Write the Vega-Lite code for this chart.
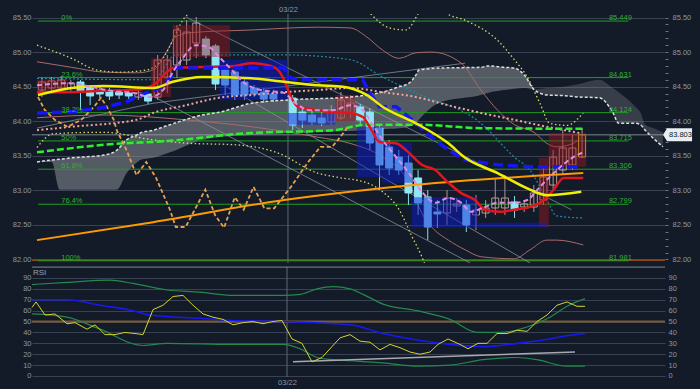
{
"$schema":"https://vega.github.io/schema/vega-lite/v6.json",
"background":"#131b29",
"padding":0,
"spacing":2,
"config":{"view":{"stroke":null},"font":"Liberation Sans","axis":{"labelFont":"Liberation Sans","labelFontSize":7.5,"labelColor":"#8b96a4"}},
"datasets":{
"candles":[
{"i":0,"o":84.451,"h":84.625,"l":84.35,"c":84.567,"t":"up"},
{"i":1,"o":84.48,"h":84.639,"l":84.422,"c":84.582,"t":"up"},
{"i":2,"o":84.48,"h":84.654,"l":84.451,"c":84.596,"t":"up"},
{"i":3,"o":84.48,"h":84.596,"l":84.437,"c":84.553,"t":"up"},
{"i":4,"o":84.567,"h":84.596,"l":84.162,"c":84.422,"t":"down"},
{"i":5,"o":84.48,"h":84.524,"l":84.234,"c":84.365,"t":"down"},
{"i":6,"o":84.451,"h":84.495,"l":84.336,"c":84.394,"t":"down"},
{"i":7,"o":84.422,"h":84.48,"l":84.307,"c":84.365,"t":"down"},
{"i":8,"o":84.422,"h":84.466,"l":84.321,"c":84.379,"t":"down"},
{"i":9,"o":84.408,"h":84.451,"l":84.307,"c":84.365,"t":"down"},
{"i":10,"o":84.35,"h":84.451,"l":84.307,"c":84.408,"t":"up"},
{"i":11,"o":84.394,"h":84.422,"l":84.249,"c":84.292,"t":"down"},
{"i":12,"o":84.35,"h":84.958,"l":84.307,"c":84.885,"t":"up"},
{"i":13,"o":84.639,"h":84.958,"l":84.408,"c":84.885,"t":"up"},
{"i":14,"o":84.813,"h":85.392,"l":84.625,"c":85.319,"t":"up"},
{"i":15,"o":84.885,"h":85.464,"l":84.813,"c":85.29,"t":"up"},
{"i":16,"o":85.131,"h":85.507,"l":84.914,"c":85.42,"t":"up"},
{"i":17,"o":85.189,"h":85.232,"l":84.914,"c":84.958,"t":"down"},
{"i":18,"o":85.088,"h":85.117,"l":84.451,"c":84.538,"t":"down"},
{"i":19,"o":84.741,"h":84.799,"l":84.379,"c":84.524,"t":"down"},
{"i":20,"o":84.712,"h":84.741,"l":84.307,"c":84.379,"t":"down"},
{"i":21,"o":84.567,"h":84.625,"l":84.307,"c":84.379,"t":"down"},
{"i":22,"o":84.48,"h":84.524,"l":84.35,"c":84.394,"t":"down"},
{"i":23,"o":84.422,"h":84.48,"l":84.263,"c":84.321,"t":"down"},
{"i":24,"o":84.394,"h":84.451,"l":84.278,"c":84.321,"t":"down"},
{"i":26,"o":84.336,"h":84.379,"l":83.873,"c":83.945,"t":"down"},
{"i":27,"o":84.133,"h":84.191,"l":83.902,"c":84.017,"t":"down"},
{"i":28,"o":84.09,"h":84.162,"l":83.945,"c":83.989,"t":"down"},
{"i":29,"o":84.046,"h":84.133,"l":83.931,"c":83.974,"t":"down"},
{"i":30,"o":83.989,"h":84.234,"l":83.945,"c":84.162,"t":"up"},
{"i":31,"o":84.046,"h":84.422,"l":84.017,"c":84.307,"t":"up"},
{"i":32,"o":84.119,"h":84.379,"l":84.046,"c":84.263,"t":"up"},
{"i":33,"o":84.206,"h":84.249,"l":83.945,"c":84.017,"t":"down"},
{"i":34,"o":84.133,"h":84.191,"l":83.584,"c":83.685,"t":"down"},
{"i":35,"o":83.902,"h":83.945,"l":83.005,"c":83.367,"t":"down"},
{"i":36,"o":83.627,"h":83.728,"l":83.222,"c":83.323,"t":"down"},
{"i":37,"o":83.482,"h":83.584,"l":83.222,"c":83.294,"t":"down"},
{"i":38,"o":83.396,"h":83.511,"l":82.788,"c":82.962,"t":"down"},
{"i":39,"o":83.179,"h":83.294,"l":82.644,"c":82.817,"t":"down"},
{"i":40,"o":82.904,"h":83.005,"l":82.282,"c":82.47,"t":"down"},
{"i":41,"o":82.687,"h":82.861,"l":82.456,"c":82.658,"t":"down"},
{"i":42,"o":82.672,"h":83.005,"l":82.499,"c":82.889,"t":"up"},
{"i":43,"o":82.774,"h":82.889,"l":82.687,"c":82.803,"t":"up"},
{"i":44,"o":82.788,"h":82.861,"l":82.398,"c":82.499,"t":"down"},
{"i":45,"o":82.644,"h":82.933,"l":82.427,"c":82.716,"t":"up"},
{"i":46,"o":82.672,"h":82.861,"l":82.6,"c":82.745,"t":"up"},
{"i":47,"o":82.745,"h":83.179,"l":82.644,"c":82.889,"t":"up"},
{"i":48,"o":82.745,"h":83.222,"l":82.644,"c":82.889,"t":"up"},
{"i":49,"o":82.832,"h":82.918,"l":82.6,"c":82.716,"t":"down"},
{"i":50,"o":82.759,"h":82.861,"l":82.687,"c":82.803,"t":"up"},
{"i":51,"o":82.759,"h":83.077,"l":82.687,"c":82.962,"t":"up"},
{"i":52,"o":82.861,"h":83.367,"l":82.788,"c":83.193,"t":"up"},
{"i":53,"o":83.077,"h":83.584,"l":83.005,"c":83.482,"t":"up"},
{"i":54,"o":83.294,"h":83.873,"l":83.222,"c":83.613,"t":"up"},
{"i":55,"o":83.367,"h":83.8,"l":83.294,"c":83.613,"t":"up"},
{"i":56,"o":83.482,"h":83.902,"l":83.468,"c":83.803,"t":"last"}
],
"cloud":[
{"seg":"L","i":-0.51,"a":83.41,"b":83.41},
{"seg":"L","i":1.02,"a":83.44,"b":83.41},
{"seg":"L","i":1.84,"a":83.45,"b":83.01},
{"seg":"L","i":3.06,"a":83.47,"b":83.01},
{"seg":"L","i":6.43,"a":83.51,"b":83.01},
{"seg":"L","i":7.76,"a":83.58,"b":83.01},
{"seg":"L","i":8.78,"a":83.73,"b":83.25},
{"seg":"L","i":9.8,"a":83.8,"b":83.4},
{"seg":"L","i":10.2,"a":83.83,"b":83.44},
{"seg":"L","i":11.53,"a":83.87,"b":83.47},
{"seg":"L","i":13.27,"a":83.95,"b":83.55},
{"seg":"L","i":16.63,"a":84.09,"b":83.73},
{"seg":"L","i":18.37,"a":84.13,"b":83.77},
{"seg":"L","i":21.73,"a":84.26,"b":83.8},
{"seg":"L","i":25.82,"a":84.31,"b":83.83},
{"seg":"L","i":31.94,"a":84.35,"b":83.86},
{"seg":"L","i":36.02,"a":84.45,"b":83.89},
{"seg":"L","i":37.04,"a":84.5,"b":83.9},
{"seg":"L","i":38.06,"a":84.55,"b":83.92},
{"seg":"L","i":38.78,"a":84.67,"b":83.97},
{"seg":"L","i":39.08,"a":84.74,"b":84.02},
{"seg":"L","i":41.43,"a":84.77,"b":84.28},
{"seg":"L","i":45.51,"a":84.78,"b":84.38},
{"seg":"L","i":46.22,"a":84.8,"b":84.41},
{"seg":"L","i":47.96,"a":84.78,"b":84.45},
{"seg":"L","i":48.98,"a":84.77,"b":84.47},
{"seg":"L","i":50.0,"a":84.67,"b":84.48},
{"seg":"L","i":51.02,"a":84.46,"b":84.46},
{"seg":"D","i":51.02,"a":84.46,"b":84.46},
{"seg":"D","i":52.35,"a":84.38,"b":84.48},
{"seg":"D","i":54.08,"a":84.37,"b":84.5},
{"seg":"D","i":55.71,"a":84.35,"b":84.54},
{"seg":"D","i":57.76,"a":84.34,"b":84.6},
{"seg":"D","i":59.18,"a":84.13,"b":84.48},
{"seg":"D","i":59.8,"a":83.97,"b":84.42},
{"seg":"D","i":61.53,"a":83.97,"b":84.21},
{"seg":"D","i":62.04,"a":83.95,"b":84.13},
{"seg":"D","i":62.55,"a":83.87,"b":83.95},
{"seg":"D","i":63.57,"a":83.73,"b":83.89},
{"seg":"D","i":64.39,"a":83.63,"b":83.84}
],
"boxes":[
{"k":"r","x0":-0.51,"x1":2.65,"p0":84.6,"p1":84.42},
{"k":"r","x0":11.33,"x1":13.37,"p0":84.91,"p1":84.35},
{"k":"r","x0":13.57,"x1":19.49,"p0":85.39,"p1":84.93},
{"k":"b","x0":18.47,"x1":25.51,"p0":84.89,"p1":84.31},
{"k":"b","x0":25.51,"x1":30.41,"p0":84.12,"p1":83.95},
{"k":"r","x0":30.41,"x1":32.45,"p0":84.38,"p1":83.99},
{"k":"b","x0":32.65,"x1":35.31,"p0":83.92,"p1":83.19},
{"k":"b","x0":35.31,"x1":38.37,"p0":83.69,"p1":83.11},
{"k":"b","x0":38.37,"x1":45.2,"p0":82.9,"p1":82.46},
{"k":"b","x0":45.2,"x1":52.35,"p0":82.53,"p1":82.46},
{"k":"r","x0":51.53,"x1":52.55,"p0":83.47,"p1":82.47},
{"k":"r","x0":52.55,"x1":56.43,"p0":83.83,"p1":83.34}
],
"fib":[
{"f":"0%","v":"85.449","p":85.449},
{"f":"23.6%","v":"84.631","p":84.631},
{"f":"38.2%","v":"84.124","p":84.124},
{"f":"50%","v":"83.715","p":83.715},
{"f":"61.8%","v":"83.306","p":83.306},
{"f":"76.4%","v":"82.799","p":82.799},
{"f":"100%","v":"81.981","p":81.981}
],
"lines":[
{"s":"Y","i":-0.41,"p":84.38},{"s":"Y","i":3.06,"p":84.48},{"s":"Y","i":6.43,"p":84.51},{"s":"Y","i":11.53,"p":84.48},{"s":"Y","i":13.57,"p":84.57},{"s":"Y","i":16.63,"p":84.64},{"s":"Y","i":21.73,"p":84.62},{"s":"Y","i":25.1,"p":84.57},{"s":"Y","i":28.57,"p":84.52},{"s":"Y","i":31.22,"p":84.5},{"s":"Y","i":33.67,"p":84.38},{"s":"Y","i":35.31,"p":84.21},{"s":"Y","i":38.78,"p":83.97},{"s":"Y","i":42.14,"p":83.68},{"s":"Y","i":43.88,"p":83.47},{"s":"Y","i":47.24,"p":83.25},{"s":"Y","i":50.61,"p":83.01},{"s":"Y","i":52.35,"p":82.93},{"s":"Y","i":55.92,"p":82.98},
{"s":"R","i":-0.51,"p":84.42},{"s":"R","i":2.65,"p":84.42},{"s":"R","i":6.12,"p":84.44},{"s":"R","i":9.49,"p":84.45},{"s":"R","i":10.82,"p":84.48},{"s":"R","i":11.84,"p":84.55},{"s":"R","i":12.86,"p":84.7},{"s":"R","i":13.57,"p":84.77},{"s":"R","i":20.0,"p":84.8},{"s":"R","i":21.73,"p":84.84},{"s":"R","i":23.47,"p":84.81},{"s":"R","i":24.49,"p":84.74},{"s":"R","i":25.1,"p":84.6},{"s":"R","i":25.82,"p":84.35},{"s":"R","i":26.53,"p":84.21},{"s":"R","i":27.14,"p":84.19},{"s":"R","i":30.2,"p":84.13},{"s":"R","i":31.94,"p":84.12},{"s":"R","i":33.27,"p":84.06},{"s":"R","i":33.98,"p":83.92},{"s":"R","i":35.0,"p":83.7},{"s":"R","i":36.73,"p":83.68},{"s":"R","i":37.76,"p":83.58},{"s":"R","i":39.39,"p":83.37},{"s":"R","i":40.82,"p":83.29},{"s":"R","i":41.84,"p":83.15},{"s":"R","i":43.47,"p":82.96},{"s":"R","i":44.9,"p":82.86},{"s":"R","i":45.92,"p":82.72},{"s":"R","i":47.55,"p":82.69},{"s":"R","i":48.98,"p":82.72},{"s":"R","i":50.61,"p":82.76},{"s":"R","i":52.04,"p":82.86},{"s":"R","i":53.06,"p":83.01},{"s":"R","i":54.08,"p":83.18},{"s":"R","i":56.12,"p":83.18},
{"s":"B","i":-0.51,"p":84.12},{"s":"B","i":2.65,"p":84.13},{"s":"B","i":6.12,"p":84.19},{"s":"B","i":8.78,"p":84.28},{"s":"B","i":10.2,"p":84.38},{"s":"B","i":12.24,"p":84.48},{"s":"B","i":13.27,"p":84.62},{"s":"B","i":13.88,"p":84.77},{"s":"B","i":25.1,"p":84.77},{"s":"B","i":25.51,"p":84.64},{"s":"B","i":26.53,"p":84.6},{"s":"B","i":33.27,"p":84.6},{"s":"B","i":33.98,"p":84.41},{"s":"B","i":35.0,"p":84.21},{"s":"B","i":36.73,"p":84.21},{"s":"B","i":38.37,"p":84.02},{"s":"B","i":40.41,"p":83.77},{"s":"B","i":42.14,"p":83.58},{"s":"B","i":43.88,"p":83.44},{"s":"B","i":47.24,"p":83.37},{"s":"B","i":50.61,"p":83.34},{"s":"B","i":56.12,"p":83.34},
{"s":"O","i":-0.51,"p":82.28},{"s":"O","i":11.53,"p":82.54},{"s":"O","i":25.1,"p":82.86},{"s":"O","i":31.94,"p":82.98},{"s":"O","i":38.78,"p":83.08},{"s":"O","i":56.12,"p":83.25},
{"s":"Z","i":-0.41,"p":84.35},{"s":"Z","i":0.31,"p":84.16},{"s":"Z","i":1.33,"p":84.02},{"s":"Z","i":2.65,"p":83.92},{"s":"Z","i":4.08,"p":84.02},{"s":"Z","i":5.41,"p":84.21},{"s":"Z","i":6.12,"p":84.34},{"s":"Z","i":6.73,"p":84.21},{"s":"Z","i":7.45,"p":84.02},{"s":"Z","i":7.76,"p":83.87},{"s":"Z","i":8.78,"p":83.58},{"s":"Z","i":9.8,"p":83.22},{"s":"Z","i":10.82,"p":83.41},{"s":"Z","i":11.84,"p":83.18},{"s":"Z","i":13.27,"p":82.72},{"s":"Z","i":13.88,"p":82.47},{"s":"Z","i":14.9,"p":82.47},{"s":"Z","i":16.94,"p":83.01},{"s":"Z","i":17.96,"p":82.64},{"s":"Z","i":18.88,"p":82.46},{"s":"Z","i":20.0,"p":82.9},{"s":"Z","i":20.92,"p":82.72},{"s":"Z","i":21.94,"p":83.05},{"s":"Z","i":23.06,"p":82.74},{"s":"Z","i":24.08,"p":82.74},{"s":"Z","i":25.82,"p":83.05},{"s":"Z","i":27.55,"p":83.4},{"s":"Z","i":28.88,"p":83.63},{"s":"Z","i":30.1,"p":83.63},{"s":"Z","i":30.92,"p":83.77},{"s":"Z","i":31.63,"p":83.9},
{"s":"G","i":-0.51,"p":83.55},{"s":"G","i":8.47,"p":83.68},{"s":"G","i":11.53,"p":83.7},{"s":"G","i":21.73,"p":83.83},{"s":"G","i":30.2,"p":83.87},{"s":"G","i":33.67,"p":83.95},{"s":"G","i":38.78,"p":83.95},{"s":"G","i":45.51,"p":83.9},{"s":"G","i":56.12,"p":83.89},
{"s":"P","i":-0.51,"p":83.87},{"s":"P","i":3.06,"p":83.92},{"s":"P","i":9.8,"p":84.02},{"s":"P","i":11.53,"p":84.12},{"s":"P","i":14.9,"p":84.23},{"s":"P","i":18.37,"p":84.34},{"s":"P","i":21.73,"p":84.38},{"s":"P","i":25.1,"p":84.42},{"s":"P","i":28.57,"p":84.45},{"s":"P","i":31.94,"p":84.48},{"s":"P","i":35.31,"p":84.42},{"s":"P","i":38.78,"p":84.35},{"s":"P","i":42.14,"p":84.23},{"s":"P","i":45.51,"p":84.12},{"s":"P","i":48.98,"p":84.02},{"s":"P","i":52.35,"p":83.92},{"s":"P","i":55.71,"p":83.83},
{"s":"V","i":-0.51,"p":84.52},{"s":"V","i":2.65,"p":84.55},{"s":"V","i":5.1,"p":84.5},{"s":"V","i":7.14,"p":84.44},{"s":"V","i":9.49,"p":84.41},{"s":"V","i":11.22,"p":84.35},{"s":"V","i":12.55,"p":84.45},{"s":"V","i":13.57,"p":84.71},{"s":"V","i":14.59,"p":84.91},{"s":"V","i":15.92,"p":85.1},{"s":"V","i":17.35,"p":85.07},{"s":"V","i":18.37,"p":84.93},{"s":"V","i":19.69,"p":84.74},{"s":"V","i":21.02,"p":84.55},{"s":"V","i":22.76,"p":84.45},{"s":"V","i":25.1,"p":84.41},{"s":"V","i":26.12,"p":84.28},{"s":"V","i":27.86,"p":84.16},{"s":"V","i":30.2,"p":84.16},{"s":"V","i":31.94,"p":84.23},{"s":"V","i":33.27,"p":84.16},{"s":"V","i":33.98,"p":84.02},{"s":"V","i":35.31,"p":83.73},{"s":"V","i":36.73,"p":83.48},{"s":"V","i":38.06,"p":83.25},{"s":"V","i":39.39,"p":82.98},{"s":"V","i":40.82,"p":82.82},{"s":"V","i":42.14,"p":82.89},{"s":"V","i":43.47,"p":82.82},{"s":"V","i":44.49,"p":82.69},{"s":"V","i":45.92,"p":82.76},{"s":"V","i":47.24,"p":82.82},{"s":"V","i":48.98,"p":82.82},{"s":"V","i":50.31,"p":82.86},{"s":"V","i":51.63,"p":83.05},{"s":"V","i":53.06,"p":83.25},{"s":"V","i":55.1,"p":83.48},{"s":"V","i":56.12,"p":83.55},
{"s":"YU","i":-0.51,"p":85.1},{"s":"YU","i":3.06,"p":84.91},{"s":"YU","i":5.71,"p":84.74},{"s":"YU","i":8.16,"p":84.71},{"s":"YU","i":10.82,"p":84.74},{"s":"YU","i":12.55,"p":84.91},{"s":"YU","i":13.57,"p":85.17},{"s":"YU","i":14.59,"p":85.46},{"s":"YU","i":15.61,"p":85.61},{"s":"YU","i":18.67,"p":86.19},{"s":"YU","i":30.92,"p":86.19},{"s":"YU","i":33.98,"p":85.57},{"s":"YU","i":36.02,"p":85.35},{"s":"YU","i":37.76,"p":85.32},{"s":"YU","i":39.08,"p":85.57},{"s":"YU","i":40.41,"p":85.83},{"s":"YU","i":41.84,"p":85.57},{"s":"YU","i":43.88,"p":85.46},{"s":"YU","i":47.24,"p":85.17},{"s":"YU","i":48.98,"p":84.89},{"s":"YU","i":50.31,"p":84.64},{"s":"YU","i":51.63,"p":84.26},{"s":"YU","i":52.65,"p":83.97},{"s":"YU","i":54.39,"p":83.94},{"s":"YU","i":56.12,"p":84.12},
{"s":"YL","i":-0.51,"p":83.62},{"s":"YL","i":1.2,"p":83.82},{"s":"YL","i":6.43,"p":83.84},{"s":"YL","i":11.53,"p":83.73},{"s":"YL","i":15.31,"p":83.68},{"s":"YL","i":20.0,"p":83.66},{"s":"YL","i":24.49,"p":83.54},{"s":"YL","i":28.57,"p":83.25},{"s":"YL","i":30.61,"p":83.19},{"s":"YL","i":33.67,"p":83.11},{"s":"YL","i":35.31,"p":82.98},{"s":"YL","i":37.04,"p":82.72},{"s":"YL","i":38.37,"p":82.33},{"s":"YL","i":39.39,"p":82.04},{"s":"YL","i":40.1,"p":81.78},
{"s":"SU","i":-0.51,"p":84.86},{"s":"SU","i":3.06,"p":84.78},{"s":"SU","i":6.43,"p":84.71},{"s":"SU","i":9.8,"p":84.7},{"s":"SU","i":11.53,"p":84.74},{"s":"SU","i":12.86,"p":84.99},{"s":"SU","i":13.88,"p":85.22},{"s":"SU","i":15.31,"p":85.28},{"s":"SU","i":21.73,"p":85.32},{"s":"SU","i":28.57,"p":85.36},{"s":"SU","i":31.94,"p":85.35},{"s":"SU","i":33.67,"p":85.22},{"s":"SU","i":35.31,"p":85.03},{"s":"SU","i":37.04,"p":84.91},{"s":"SU","i":38.78,"p":84.99},{"s":"SU","i":40.41,"p":85.0},{"s":"SU","i":43.47,"p":84.84},{"s":"SU","i":45.51,"p":84.45},{"s":"SU","i":47.24,"p":84.16},{"s":"SU","i":48.98,"p":83.95},{"s":"SU","i":51.02,"p":83.84},{"s":"SU","i":52.35,"p":83.68},{"s":"SU","i":53.37,"p":83.63},{"s":"SU","i":55.1,"p":83.68},{"s":"SU","i":55.92,"p":83.77},
{"s":"SL","i":-0.51,"p":84.05},{"s":"SL","i":6.43,"p":84.09},{"s":"SL","i":14.9,"p":84.02},{"s":"SL","i":21.73,"p":83.92},{"s":"SL","i":28.57,"p":83.77},{"s":"SL","i":31.94,"p":83.68},{"s":"SL","i":35.31,"p":83.48},{"s":"SL","i":38.06,"p":83.11},{"s":"SL","i":39.39,"p":82.67},{"s":"SL","i":40.41,"p":82.47},{"s":"SL","i":42.14,"p":82.28},{"s":"SL","i":43.88,"p":82.14},{"s":"SL","i":45.51,"p":82.04},{"s":"SL","i":48.98,"p":82.01},{"s":"SL","i":50.61,"p":82.14},{"s":"SL","i":52.35,"p":82.28},{"s":"SL","i":53.37,"p":82.28},{"s":"SL","i":56.12,"p":82.21},
{"s":"T","i":-0.51,"p":84.62},{"s":"T","i":11.53,"p":84.6},{"s":"T","i":13.88,"p":84.96},{"s":"T","i":25.1,"p":84.96},{"s":"T","i":31.94,"p":84.89},{"s":"T","i":35.31,"p":84.64},{"s":"T","i":38.78,"p":84.41},{"s":"T","i":45.51,"p":83.97},{"s":"T","i":48.98,"p":83.48},{"s":"T","i":50.61,"p":83.29},{"s":"T","i":52.35,"p":82.86},{"s":"T","i":53.37,"p":82.63},{"s":"T","i":56.12,"p":82.6},
{"s":"La","i":14.9,"p":85.51},{"s":"La","i":54.9,"p":82.72},
{"s":"Lb","i":11.53,"p":84.36},{"s":"Lb","i":44.4,"p":81.95},
{"s":"Lc","i":19.0,"p":84.51},{"s":"Lc","i":50.6,"p":81.95},
{"s":"Rr","i":-0.51,"p":83.9},{"s":"Rr","i":11.53,"p":84.26},{"s":"Rr","i":43.88,"p":84.84}
],
"rsi":[
{"s":"Y","i":-0.51,"v":63},{"s":"Y","i":-0.1,"v":68},{"s":"Y","i":0.82,"v":56},{"s":"Y","i":1.84,"v":57},{"s":"Y","i":3.06,"v":48},{"s":"Y","i":3.88,"v":49},{"s":"Y","i":5.1,"v":43},{"s":"Y","i":5.92,"v":47},{"s":"Y","i":6.94,"v":38},{"s":"Y","i":7.96,"v":38},{"s":"Y","i":8.98,"v":40},{"s":"Y","i":10.0,"v":39},{"s":"Y","i":10.82,"v":38},{"s":"Y","i":11.84,"v":61},{"s":"Y","i":12.86,"v":65},{"s":"Y","i":13.88,"v":73},{"s":"Y","i":14.9,"v":74},{"s":"Y","i":15.92,"v":65},{"s":"Y","i":16.94,"v":57},{"s":"Y","i":17.96,"v":54},{"s":"Y","i":18.98,"v":52},{"s":"Y","i":20.0,"v":47},{"s":"Y","i":21.02,"v":49},{"s":"Y","i":22.04,"v":50},{"s":"Y","i":23.06,"v":48},{"s":"Y","i":24.08,"v":50},{"s":"Y","i":25.0,"v":51},{"s":"Y","i":26.02,"v":34},{"s":"Y","i":27.04,"v":30},{"s":"Y","i":28.06,"v":13},{"s":"Y","i":29.08,"v":17},{"s":"Y","i":30.1,"v":27},{"s":"Y","i":30.92,"v":35},{"s":"Y","i":31.94,"v":38},{"s":"Y","i":32.96,"v":32},{"s":"Y","i":33.98,"v":31},{"s":"Y","i":35.0,"v":24},{"s":"Y","i":36.02,"v":29},{"s":"Y","i":37.04,"v":26},{"s":"Y","i":38.06,"v":22},{"s":"Y","i":39.08,"v":20},{"s":"Y","i":40.1,"v":22},{"s":"Y","i":40.92,"v":29},{"s":"Y","i":41.94,"v":34},{"s":"Y","i":43.16,"v":29},{"s":"Y","i":43.98,"v":25},{"s":"Y","i":45.0,"v":30},{"s":"Y","i":45.92,"v":30},{"s":"Y","i":46.94,"v":39},{"s":"Y","i":47.96,"v":39},{"s":"Y","i":48.98,"v":42},{"s":"Y","i":50.0,"v":41},{"s":"Y","i":51.02,"v":50},{"s":"Y","i":52.04,"v":56},{"s":"Y","i":53.06,"v":65},{"s":"Y","i":54.08,"v":68},{"s":"Y","i":55.1,"v":64},{"s":"Y","i":55.92,"v":64},
{"s":"B","i":-0.51,"v":70},{"s":"B","i":3.06,"v":70},{"s":"B","i":6.43,"v":65},{"s":"B","i":9.8,"v":60},{"s":"B","i":11.53,"v":56},{"s":"B","i":16.63,"v":53},{"s":"B","i":20.0,"v":51},{"s":"B","i":25.1,"v":50},{"s":"B","i":31.94,"v":47},{"s":"B","i":35.31,"v":39},{"s":"B","i":38.78,"v":33},{"s":"B","i":42.14,"v":29},{"s":"B","i":45.51,"v":27},{"s":"B","i":48.98,"v":30},{"s":"B","i":51.63,"v":33},{"s":"B","i":54.08,"v":37},{"s":"B","i":55.92,"v":39},
{"s":"GU","i":-0.51,"v":84},{"s":"GU","i":3.06,"v":86},{"s":"GU","i":7.45,"v":88},{"s":"GU","i":9.8,"v":85},{"s":"GU","i":13.27,"v":79},{"s":"GU","i":16.63,"v":77},{"s":"GU","i":20.0,"v":74},{"s":"GU","i":25.1,"v":74},{"s":"GU","i":26.84,"v":75},{"s":"GU","i":28.57,"v":80},{"s":"GU","i":30.2,"v":82},{"s":"GU","i":31.94,"v":80},{"s":"GU","i":33.27,"v":75},{"s":"GU","i":35.31,"v":66},{"s":"GU","i":38.78,"v":60},{"s":"GU","i":42.14,"v":52},{"s":"GU","i":44.9,"v":40},{"s":"GU","i":47.24,"v":40},{"s":"GU","i":50.0,"v":45},{"s":"GU","i":52.35,"v":54},{"s":"GU","i":54.08,"v":64},{"s":"GU","i":55.92,"v":71},
{"s":"GL","i":-0.51,"v":57},{"s":"GL","i":3.06,"v":54},{"s":"GL","i":6.43,"v":43},{"s":"GL","i":10.82,"v":28},{"s":"GL","i":13.27,"v":30},{"s":"GL","i":20.0,"v":29},{"s":"GL","i":25.1,"v":29},{"s":"GL","i":26.84,"v":25},{"s":"GL","i":28.57,"v":17},{"s":"GL","i":30.2,"v":15},{"s":"GL","i":31.94,"v":14},{"s":"GL","i":35.31,"v":12},{"s":"GL","i":38.78,"v":9},{"s":"GL","i":42.14,"v":10},{"s":"GL","i":45.51,"v":15},{"s":"GL","i":48.98,"v":17},{"s":"GL","i":51.02,"v":15},{"s":"GL","i":54.08,"v":9},{"s":"GL","i":55.92,"v":9},
{"s":"T","i":26.12,"v":13},{"s":"T","i":54.9,"v":22}
]
},
"vconcat":[
{
"width":633,"height":249,
"resolve":{"axis":{"x":"independent","y":"independent"}},
"layer":[
{"data":{"name":"cloud"},"transform":[{"filter":"datum.seg==='L'"}],
 "mark":{"type":"area","fill":"#8a9096","fillOpacity":0.55,"clip":true,"interpolate":"monotone"},
 "encoding":{
  "x":{"field":"i","type":"quantitative","scale":{"domain":[-0.51,64.08],"nice":false,"zero":false},
       "axis":{"orient":"top","values":[25.51],"labelExpr":"'03/22'","grid":false,"ticks":false,"domain":false,"labelPadding":1,"minExtent":14,"maxExtent":14,"title":null}},
  "y":{"field":"a","type":"quantitative","scale":{"domain":[81.949,85.551],"nice":false,"zero":false},
       "axis":{"orient":"left","values":[82,82.5,83,83.5,84,84.5,85,85.5],"format":".2f","grid":true,"gridColor":"#384252","ticks":false,"domain":false,"labelPadding":1,"minExtent":32,"maxExtent":32,"title":null}},
  "y2":{"field":"b"}}},
{"data":{"name":"cloud"},"transform":[{"filter":"datum.seg==='D'"}],
 "mark":{"type":"area","fill":"#8a9096","fillOpacity":0.3,"clip":true,"interpolate":"monotone"},
 "encoding":{
  "x":{"field":"i","type":"quantitative","scale":{"domain":[-0.51,64.08],"nice":false,"zero":false},"axis":null},
  "y":{"field":"a","type":"quantitative","scale":{"domain":[81.949,85.551],"nice":false,"zero":false},"axis":null},
  "y2":{"field":"b"}}},
{"data":{"values":[{"p":81.99}]},"mark":{"type":"rule","color":"#8a4a1c","strokeWidth":1.5},
 "encoding":{"y":{"field":"p","type":"quantitative","scale":{"domain":[81.949,85.551],"nice":false,"zero":false},"axis":null}}},
{"data":{"name":"fib"},"mark":{"type":"rule","color":"#1f9e1f","strokeWidth":1},
 "encoding":{
  "x":{"datum":-0.41,"type":"quantitative","scale":{"domain":[-0.51,64.08],"nice":false,"zero":false},"axis":null},
  "x2":{"datum":60.82},
  "y":{"field":"p","type":"quantitative","scale":{"domain":[81.949,85.551],"nice":false,"zero":false},
       "axis":{"orient":"right","values":[82,82.1,82.2,82.3,82.4,82.5,82.6,82.7,82.8,82.9,83,83.1,83.2,83.3,83.4,83.5,83.6,83.7,83.8,83.9,84,84.1,84.2,84.3,84.4,84.5,84.6,84.7,84.8,84.9,85,85.1,85.2,85.3,85.4,85.5],
               "labelExpr":"(abs(datum.value*2-round(datum.value*2))<0.001)?format(datum.value,'.2f'):''",
               "grid":false,"ticks":true,"tickSize":3,"tickColor":"#6a7482","domain":false,"labelPadding":4,"minExtent":35,"maxExtent":35,"title":null}}}},
{"data":{"values":[{"p":83.803}]},"mark":{"type":"rule","color":"#9aa0a8","strokeWidth":1,"opacity":0.8},
 "encoding":{"y":{"field":"p","type":"quantitative","scale":{"domain":[81.949,85.551],"nice":false,"zero":false},"axis":null}}},
{"data":{"values":[{"i":25.51}]},"mark":{"type":"rule","color":"#5f6876","strokeWidth":1},
 "encoding":{"x":{"field":"i","type":"quantitative","scale":{"domain":[-0.51,64.08],"nice":false,"zero":false},"axis":null}}},
{"data":{"name":"lines"},"transform":[{"filter":{"field":"s","oneOf":["La","Lb","Lc","Rr"]}}],
 "mark":{"type":"line","color":"#8c94a2","strokeWidth":1,"opacity":0.75,"clip":true},
 "encoding":{"x":{"field":"i","type":"quantitative","scale":{"domain":[-0.51,64.08],"nice":false,"zero":false},"axis":null},
  "y":{"field":"p","type":"quantitative","scale":{"domain":[81.949,85.551],"nice":false,"zero":false},"axis":null},"detail":{"field":"s"}}},
{"data":{"name":"lines"},"transform":[{"filter":{"field":"s","oneOf":["SU","SL"]}}],
 "mark":{"type":"line","color":"#a86a6a","strokeWidth":1,"clip":true,"interpolate":"monotone"},
 "encoding":{"x":{"field":"i","type":"quantitative","scale":{"domain":[-0.51,64.08],"nice":false,"zero":false},"axis":null},
  "y":{"field":"p","type":"quantitative","scale":{"domain":[81.949,85.551],"nice":false,"zero":false},"axis":null},"detail":{"field":"s"}}},
{"data":{"name":"lines"},"transform":[{"filter":"datum.s==='T'"}],
 "mark":{"type":"line","color":"#1c8aa0","strokeWidth":1.2,"strokeDash":[2,2],"clip":true,"interpolate":"monotone"},
 "encoding":{"x":{"field":"i","type":"quantitative","scale":{"domain":[-0.51,64.08],"nice":false,"zero":false},"axis":null},
  "y":{"field":"p","type":"quantitative","scale":{"domain":[81.949,85.551],"nice":false,"zero":false},"axis":null}}},
{"data":{"name":"lines"},"transform":[{"filter":{"field":"s","oneOf":["YU","YL"]}}],
 "mark":{"type":"line","color":"#d6d66a","strokeWidth":1.3,"strokeDash":[1.5,2.5],"clip":true,"interpolate":"monotone"},
 "encoding":{"x":{"field":"i","type":"quantitative","scale":{"domain":[-0.51,64.08],"nice":false,"zero":false},"axis":null},
  "y":{"field":"p","type":"quantitative","scale":{"domain":[81.949,85.551],"nice":false,"zero":false},"axis":null},"detail":{"field":"s"}}},
{"data":{"name":"candles"},"mark":{"type":"rule","strokeWidth":1},
 "encoding":{"x":{"field":"i","type":"quantitative","scale":{"domain":[-0.51,64.08],"nice":false,"zero":false},"axis":null},
  "y":{"field":"l","type":"quantitative","scale":{"domain":[81.949,85.551],"nice":false,"zero":false},"axis":null},
  "y2":{"field":"h"},
  "color":{"field":"t","type":"nominal","scale":{"domain":["up","down","last"],"range":["#b09292","#86dcec","#b09292"]},"legend":null}}},
{"data":{"name":"candles"},"mark":{"type":"bar","size":7,"orient":"vertical","strokeWidth":1},
 "encoding":{"x":{"field":"i","type":"quantitative","scale":{"domain":[-0.51,64.08],"nice":false,"zero":false},"axis":null},
  "y":{"field":"o","type":"quantitative","scale":{"domain":[81.949,85.551],"nice":false,"zero":false},"axis":null},
  "y2":{"field":"c"},
  "fill":{"field":"t","type":"nominal","scale":{"domain":["up","down","last"],"range":["transparent","#8ee6f6","transparent"]},"legend":null},
  "stroke":{"field":"t","type":"nominal","scale":{"domain":["up","down","last"],"range":["#b89898","#8ee6f6","#e0d020"]},"legend":null}}},
{"data":{"name":"boxes"},"transform":[{"filter":"datum.k==='r'"}],"mark":{"type":"rect","fill":"#a01820","opacity":0.45},
 "encoding":{"x":{"field":"x0","type":"quantitative","scale":{"domain":[-0.51,64.08],"nice":false,"zero":false},"axis":null},
  "x2":{"field":"x1"},
  "y":{"field":"p0","type":"quantitative","scale":{"domain":[81.949,85.551],"nice":false,"zero":false},"axis":null},
  "y2":{"field":"p1"}}},
{"data":{"name":"boxes"},"transform":[{"filter":"datum.k==='b'"}],"mark":{"type":"rect","fill":"#0a1ad8","opacity":0.48},
 "encoding":{"x":{"field":"x0","type":"quantitative","scale":{"domain":[-0.51,64.08],"nice":false,"zero":false},"axis":null},
  "x2":{"field":"x1"},
  "y":{"field":"p0","type":"quantitative","scale":{"domain":[81.949,85.551],"nice":false,"zero":false},"axis":null},
  "y2":{"field":"p1"}}},
{"data":{"name":"cloud"},
 "mark":{"type":"line","color":"#dcdcdc","strokeWidth":1.5,"strokeDash":[3,2],"clip":true,"interpolate":"monotone"},
 "encoding":{"x":{"field":"i","type":"quantitative","scale":{"domain":[-0.51,64.08],"nice":false,"zero":false},"axis":null},
  "y":{"field":"a","type":"quantitative","scale":{"domain":[81.949,85.551],"nice":false,"zero":false},"axis":null}}},
{"data":{"name":"lines"},"transform":[{"filter":"datum.s==='P'"}],
 "mark":{"type":"line","color":"#f0a49a","strokeWidth":2,"strokeDash":[2,2.5],"clip":true,"interpolate":"monotone"},
 "encoding":{"x":{"field":"i","type":"quantitative","scale":{"domain":[-0.51,64.08],"nice":false,"zero":false},"axis":null},
  "y":{"field":"p","type":"quantitative","scale":{"domain":[81.949,85.551],"nice":false,"zero":false},"axis":null}}},
{"data":{"name":"lines"},"transform":[{"filter":"datum.s==='G'"}],
 "mark":{"type":"line","color":"#2df02d","strokeWidth":2.5,"strokeDash":[7,3],"clip":true,"interpolate":"monotone"},
 "encoding":{"x":{"field":"i","type":"quantitative","scale":{"domain":[-0.51,64.08],"nice":false,"zero":false},"axis":null},
  "y":{"field":"p","type":"quantitative","scale":{"domain":[81.949,85.551],"nice":false,"zero":false},"axis":null}}},
{"data":{"name":"lines"},"transform":[{"filter":"datum.s==='O'"}],
 "mark":{"type":"line","color":"#ff9a00","strokeWidth":2,"clip":true,"interpolate":"monotone"},
 "encoding":{"x":{"field":"i","type":"quantitative","scale":{"domain":[-0.51,64.08],"nice":false,"zero":false},"axis":null},
  "y":{"field":"p","type":"quantitative","scale":{"domain":[81.949,85.551],"nice":false,"zero":false},"axis":null}}},
{"data":{"name":"lines"},"transform":[{"filter":"datum.s==='Z'"}],
 "mark":{"type":"line","color":"#e8a050","strokeWidth":1.8,"strokeDash":[4,2.5],"clip":true},
 "encoding":{"x":{"field":"i","type":"quantitative","scale":{"domain":[-0.51,64.08],"nice":false,"zero":false},"axis":null},
  "y":{"field":"p","type":"quantitative","scale":{"domain":[81.949,85.551],"nice":false,"zero":false},"axis":null}}},
{"data":{"name":"lines"},"transform":[{"filter":"datum.s==='R'"}],
 "mark":{"type":"line","color":"#e4141c","strokeWidth":2.5,"clip":true,"interpolate":"monotone"},
 "encoding":{"x":{"field":"i","type":"quantitative","scale":{"domain":[-0.51,64.08],"nice":false,"zero":false},"axis":null},
  "y":{"field":"p","type":"quantitative","scale":{"domain":[81.949,85.551],"nice":false,"zero":false},"axis":null}}},
{"data":{"name":"lines"},"transform":[{"filter":"datum.s==='B'"}],
 "mark":{"type":"line","color":"#1414ff","strokeWidth":3.5,"strokeDash":[10,5],"clip":true},
 "encoding":{"x":{"field":"i","type":"quantitative","scale":{"domain":[-0.51,64.08],"nice":false,"zero":false},"axis":null},
  "y":{"field":"p","type":"quantitative","scale":{"domain":[81.949,85.551],"nice":false,"zero":false},"axis":null}}},
{"data":{"name":"lines"},"transform":[{"filter":"datum.s==='Y'"}],
 "mark":{"type":"line","color":"#f0f000","strokeWidth":2.5,"clip":true,"interpolate":"monotone"},
 "encoding":{"x":{"field":"i","type":"quantitative","scale":{"domain":[-0.51,64.08],"nice":false,"zero":false},"axis":null},
  "y":{"field":"p","type":"quantitative","scale":{"domain":[81.949,85.551],"nice":false,"zero":false},"axis":null}}},
{"data":{"name":"lines"},"transform":[{"filter":"datum.s==='V'"}],
 "mark":{"type":"line","color":"#e08ae0","strokeWidth":2,"strokeDash":[5,3],"clip":true,"interpolate":"monotone"},
 "encoding":{"x":{"field":"i","type":"quantitative","scale":{"domain":[-0.51,64.08],"nice":false,"zero":false},"axis":null},
  "y":{"field":"p","type":"quantitative","scale":{"domain":[81.949,85.551],"nice":false,"zero":false},"axis":null}}},
{"data":{"name":"fib"},"mark":{"type":"text","align":"left","baseline":"alphabetic","dy":-1,"fontSize":7.5,"color":"#30b030"},
 "encoding":{"x":{"datum":2.0,"type":"quantitative","scale":{"domain":[-0.51,64.08],"nice":false,"zero":false},"axis":null},
  "y":{"field":"p","type":"quantitative","scale":{"domain":[81.949,85.551],"nice":false,"zero":false},"axis":null},
  "text":{"field":"f"}}},
{"data":{"name":"fib"},"mark":{"type":"text","align":"left","baseline":"alphabetic","dy":-1,"fontSize":7.5,"color":"#30b030"},
 "encoding":{"x":{"datum":58.78,"type":"quantitative","scale":{"domain":[-0.51,64.08],"nice":false,"zero":false},"axis":null},
  "y":{"field":"p","type":"quantitative","scale":{"domain":[81.949,85.551],"nice":false,"zero":false},"axis":null},
  "text":{"field":"v"}}},
{"data":{"values":[{"i":65.9,"p":83.803,"t":"83.803"}]},
 "mark":{"type":"point","shape":"M -1 0 L -0.72 -0.45 L 1 -0.45 L 1 0.45 L -0.72 0.45 Z","size":841,"filled":true,"color":"#e8eef2","opacity":1,"clip":false},
 "encoding":{"x":{"field":"i","type":"quantitative","scale":{"domain":[-0.51,64.08],"nice":false,"zero":false},"axis":null},
  "y":{"field":"p","type":"quantitative","scale":{"domain":[81.949,85.551],"nice":false,"zero":false},"axis":null}}},
{"data":{"values":[{"i":66.2,"p":83.803,"t":"83.803"}]},
 "mark":{"type":"text","align":"center","baseline":"middle","fontSize":7.5,"color":"#101820","clip":false},
 "encoding":{"x":{"field":"i","type":"quantitative","scale":{"domain":[-0.51,64.08],"nice":false,"zero":false},"axis":null},
  "y":{"field":"p","type":"quantitative","scale":{"domain":[81.949,85.551],"nice":false,"zero":false},"axis":null},
  "text":{"field":"t"}}}
]
},
{
"width":633,"height":110,
"resolve":{"axis":{"x":"independent","y":"independent"}},
"layer":[
{"data":{"values":[{"i":25.51}]},"mark":{"type":"rule","color":"#5f6876","strokeWidth":1},
 "encoding":{"x":{"field":"i","type":"quantitative","scale":{"domain":[-0.51,64.08],"nice":false,"zero":false},
   "axis":{"orient":"bottom","values":[25.51],"labelExpr":"'03/22'","grid":false,"ticks":false,"domain":false,"labelPadding":1,"minExtent":12,"maxExtent":12,"title":null}}}},
{"data":{"values":[{"v":50}]},"mark":{"type":"rule","color":"#7a5a30","strokeWidth":2},
 "encoding":{"y":{"field":"v","type":"quantitative","scale":{"domain":[-0.92,100.1],"nice":false,"zero":false},
   "axis":{"orient":"left","values":[0,10,20,30,40,50,60,70,80,90],"format":"d","grid":true,"gridColor":"#384252","ticks":false,"domain":false,"labelPadding":1,"minExtent":32,"maxExtent":32,"title":null}}}},
{"data":{"values":[{"v":100.0}]},"mark":{"type":"rule","color":"#7f8895","strokeWidth":1},
 "encoding":{"y":{"field":"v","type":"quantitative","scale":{"domain":[-0.92,100.1],"nice":false,"zero":false},
   "axis":{"orient":"right","values":[0,10,20,30,40,50,60,70,80,90],"format":"d","grid":false,"ticks":false,"domain":false,"labelPadding":3,"minExtent":35,"maxExtent":35,"title":null}}}},
{"data":{"name":"rsi"},"transform":[{"filter":{"field":"s","oneOf":["GU","GL"]}}],
 "mark":{"type":"line","color":"#25884c","strokeWidth":1.2,"interpolate":"monotone"},
 "encoding":{"x":{"field":"i","type":"quantitative","scale":{"domain":[-0.51,64.08],"nice":false,"zero":false},"axis":null},
  "y":{"field":"v","type":"quantitative","scale":{"domain":[-0.92,100.1],"nice":false,"zero":false},"axis":null},"detail":{"field":"s"}}},
{"data":{"name":"rsi"},"transform":[{"filter":"datum.s==='T'"}],
 "mark":{"type":"line","color":"#a8a8b0","strokeWidth":1.5},
 "encoding":{"x":{"field":"i","type":"quantitative","scale":{"domain":[-0.51,64.08],"nice":false,"zero":false},"axis":null},
  "y":{"field":"v","type":"quantitative","scale":{"domain":[-0.92,100.1],"nice":false,"zero":false},"axis":null}}},
{"data":{"name":"rsi"},"transform":[{"filter":"datum.s==='B'"}],
 "mark":{"type":"line","color":"#1818f0","strokeWidth":1.6,"interpolate":"monotone"},
 "encoding":{"x":{"field":"i","type":"quantitative","scale":{"domain":[-0.51,64.08],"nice":false,"zero":false},"axis":null},
  "y":{"field":"v","type":"quantitative","scale":{"domain":[-0.92,100.1],"nice":false,"zero":false},"axis":null}}},
{"data":{"name":"rsi"},"transform":[{"filter":"datum.s==='Y'"}],
 "mark":{"type":"line","color":"#d4d430","strokeWidth":1},
 "encoding":{"x":{"field":"i","type":"quantitative","scale":{"domain":[-0.51,64.08],"nice":false,"zero":false},"axis":null},
  "y":{"field":"v","type":"quantitative","scale":{"domain":[-0.92,100.1],"nice":false,"zero":false},"axis":null}}},
{"data":{"values":[{"i":-0.41,"v":94.5,"t":"RSI"}]},
 "mark":{"type":"text","align":"left","baseline":"middle","fontSize":8,"color":"#9aa4b0"},
 "encoding":{"x":{"field":"i","type":"quantitative","scale":{"domain":[-0.51,64.08],"nice":false,"zero":false},"axis":null},
  "y":{"field":"v","type":"quantitative","scale":{"domain":[-0.92,100.1],"nice":false,"zero":false},"axis":null},
  "text":{"field":"t"}}}
]
}
]
}
